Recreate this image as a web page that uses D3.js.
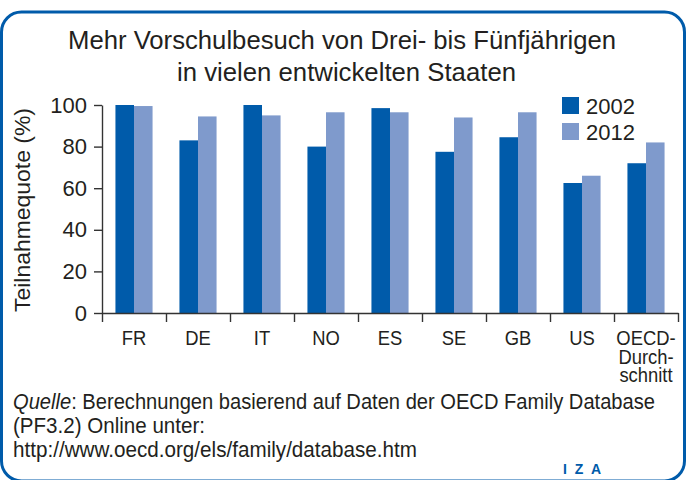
<!DOCTYPE html>
<html>
<head>
<meta charset="utf-8">
<script src="https://cdn.jsdelivr.net/npm/d3@7"></script>
<style>
  body { margin: 0; background: #fff; }
  svg text { font-family: "Liberation Sans", Arial, sans-serif; fill: #231f20; }
</style>
</head>
<body>
<div id="chart"></div>
<script>
// data
var categories = ["FR", "DE", "IT", "NO", "ES", "SE", "GB", "US", "OECD"];
var catLabels = [["FR"], ["DE"], ["IT"], ["NO"], ["ES"], ["SE"], ["GB"], ["US"], ["OECD-", "Durch-", "schnitt"]];
var series = ["2002", "2012"];
var values2002 = [100, 83, 100, 80, 98.5, 77.5, 84.5, 62.5, 72];
var values2012 = [99.5, 94.5, 95, 96.5, 96.5, 94, 96.5, 66, 82];
var yTicks = [0, 20, 40, 60, 80, 100];

var colors = {"2002": "rgb(0,91,170)", "2012": "rgb(127,154,204)"};
var blue = "rgb(0,91,170)";
var axisColor = "#333";

var W = 686, H = 480;

var svg = d3.select("#chart")
  .append("svg")
  .attr("width", W)
  .attr("height", H);

// frame
svg.append("rect")
  .attr("x", 1.5).attr("y", 12)
  .attr("width", 683).attr("height", 469)
  .attr("rx", 20).attr("ry", 20)
  .attr("fill", "none")
  .attr("stroke", blue)
  .attr("stroke-width", 3);

// title
var title = svg.append("g").style("font-size", "26px");
title.append("text").attr("x", 68).attr("y", 49)
  .attr("textLength", 548).attr("lengthAdjust", "spacingAndGlyphs")
  .text("Mehr Vorschulbesuch von Drei- bis Fünfjährigen");
title.append("text").attr("x", 177).attr("y", 81)
  .attr("textLength", 339).attr("lengthAdjust", "spacingAndGlyphs")
  .text("in vielen entwickelten Staaten");

// scales
var plotL = 102, plotR = 678, plotT = 105, plotB = 313;

var x0 = d3.scaleBand()
  .domain(categories)
  .range([plotL, plotR])
  .paddingInner(0.42)
  .paddingOuter(0.21);

var x1 = d3.scaleBand()
  .domain(series)
  .range([0, x0.bandwidth()]);

var y = d3.scaleLinear()
  .domain([0, 100])
  .range([plotB, plotT]);

// boundaries between categories for the x ticks
var xb = d3.scaleLinear()
  .domain([0, categories.length])
  .range([plotL, plotR]);

var rows = categories.map(function(c, i) {
  return {cat: c, vals: [{s: "2002", v: values2002[i]}, {s: "2012", v: values2012[i]}]};
});

// bars
var groups = svg.selectAll(".grp")
  .data(rows)
  .enter()
  .append("g")
  .attr("transform", function(d) { return "translate(" + x0(d.cat) + ",0)"; });

groups.selectAll("rect")
  .data(function(d) { return d.vals; })
  .enter()
  .append("rect")
  .attr("x", function(d) { return x1(d.s); })
  .attr("y", function(d) { return y(d.v); })
  .attr("width", x1.bandwidth())
  .attr("height", function(d) { return y(0) - y(d.v); })
  .attr("fill", function(d) { return colors[d.s]; });

// y axis
var yAxis = svg.append("g")
  .attr("transform", "translate(" + plotL + ",0)")
  .call(d3.axisLeft(y).tickValues(yTicks).tickSize(8).tickSizeOuter(0).tickPadding(7));
yAxis.selectAll("text").style("font-size", "22px").attr("fill", "#231f20");

// x axis (ticks on the category borders)
var xAxis = svg.append("g")
  .attr("transform", "translate(0," + plotB + ")")
  .call(d3.axisBottom(xb).ticks(categories.length).tickFormat("").tickSize(9).tickSizeOuter(0));

svg.selectAll(".domain, .tick line")
  .attr("stroke", axisColor)
  .attr("stroke-width", 1.4);

// x labels
var xl = svg.append("g").style("font-size", "20px").attr("text-anchor", "middle");
categories.forEach(function(c, i) {
  var t = xl.append("text")
    .attr("x", x0(c) + x0.bandwidth() / 2)
    .attr("y", 345);
  catLabels[i].forEach(function(line, j) {
    t.append("tspan")
      .attr("x", x0(c) + x0.bandwidth() / 2)
      .attr("dy", j === 0 ? 0 : 18.5)
      .text(line);
  });
});
xl.selectAll("tspan").each(function() {
  var len = this.getComputedTextLength();
  d3.select(this).attr("textLength", len * 0.92).attr("lengthAdjust", "spacingAndGlyphs");
});

// y title
svg.append("text")
  .attr("transform", "translate(30,210) rotate(-90)")
  .attr("text-anchor", "middle")
  .style("font-size", "22px")
  .attr("textLength", 204).attr("lengthAdjust", "spacingAndGlyphs")
  .text("Teilnahmequote (%)");

// legend
var legend = svg.append("g").style("font-size", "22px");
series.forEach(function(s, i) {
  legend.append("rect")
    .attr("x", 562).attr("y", 97 + i * 26)
    .attr("width", 17).attr("height", 17)
    .attr("fill", colors[s]);
  legend.append("text")
    .attr("x", 586).attr("y", 114 + i * 26)
    .text(s);
});

// source
var src = svg.append("g").style("font-size", "22px");
var s1 = src.append("text").attr("x", 13).attr("y", 409)
  .attr("textLength", 642).attr("lengthAdjust", "spacingAndGlyphs");
s1.append("tspan").style("font-style", "italic").text("Quelle");
s1.append("tspan").text(": Berechnungen basierend auf Daten der OECD Family Database");
src.append("text").attr("x", 13).attr("y", 433)
  .attr("textLength", 192).attr("lengthAdjust", "spacingAndGlyphs")
  .text("(PF3.2) Online unter:");
src.append("text").attr("x", 13).attr("y", 457)
  .attr("textLength", 404).attr("lengthAdjust", "spacingAndGlyphs")
  .text("http://www.oecd.org/els/family/database.htm");

// IZA logo
svg.append("text")
  .attr("x", 563).attr("y", 474)
  .style("font-size", "14px")
  .style("font-weight", "bold")
  .style("fill", blue)
  .attr("textLength", 38).attr("lengthAdjust", "spacing")
  .text("I Z A");
</script>
</body>
</html>
